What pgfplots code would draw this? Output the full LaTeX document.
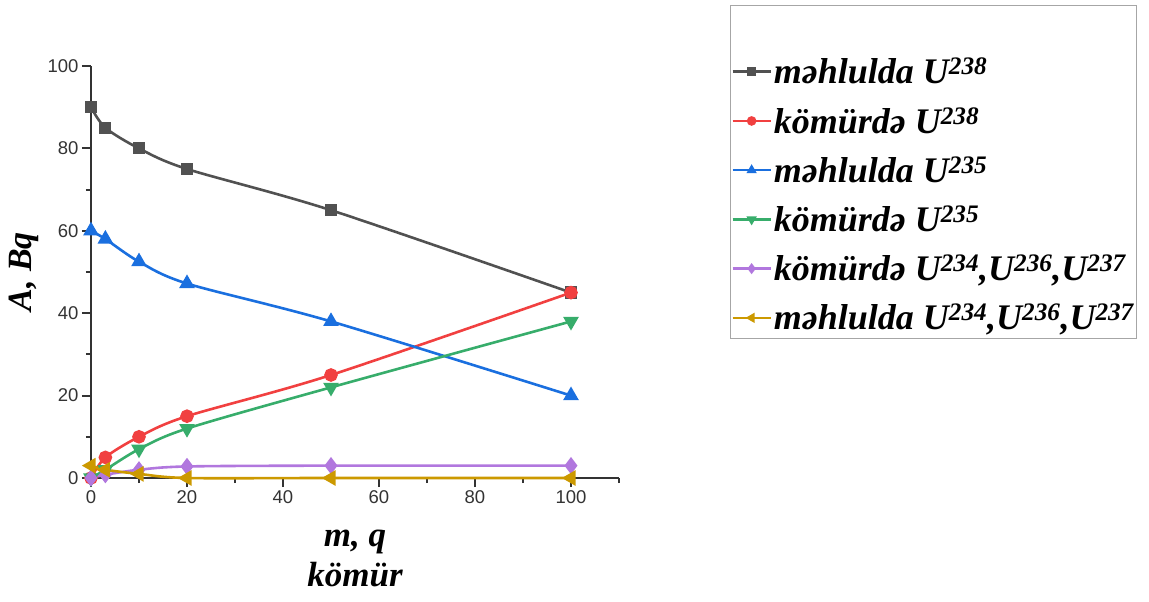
\documentclass[border=0pt]{standalone}
\usepackage{pgfplots}
\pgfplotsset{compat=1.18}
\usepackage{fontspec}
\setmainfont{Liberation Serif}
\newfontfamily\arialfont{Liberation Sans}
\definecolor{cBlack}{HTML}{515151}
\definecolor{cRed}{HTML}{F14040}
\definecolor{cBlue}{HTML}{1A6FDF}
\definecolor{cGreen}{HTML}{37AD6B}
\definecolor{cPurple}{HTML}{B177DE}
\definecolor{cGold}{HTML}{CC9900}
\begin{document}
\begin{tikzpicture}
\useasboundingbox (-91pt,-124pt) rectangle (1058pt,478pt);
\begin{axis}[
  scale only axis,
  width=528pt, height=412pt,
  xmin=0, xmax=110, ymin=0, ymax=100,
  axis x line*=bottom, axis y line*=left,
  axis line style={line width=2pt, black!80},
  xtick={0,20,40,60,80,100},
  ytick={0,20,40,60,80,100},
  minor xtick={10,30,50,70,90,110},
  minor ytick={10,30,50,70,90},
  tick align=outside,
  major tick length=9pt, minor tick length=5pt,
  tick style={line width=2pt, black!80},
  ticklabel style={font=\arialfont\fontsize{18.5}{20}\selectfont, text=black!80},
  /pgf/number format/assume math mode=true,
  xlabel={m, q\\kömür},
  xlabel style={font=\bfseries\itshape\fontsize{35}{40}\selectfont, align=center, yshift=-20pt},
  ylabel={A, Bq},
  ylabel style={font=\bfseries\itshape\fontsize{34}{38}\selectfont, yshift=2pt},
  legend style={at={(1.21,1.148)}, anchor=north west, draw=black!35, line width=1pt,
    font=\bfseries\itshape\fontsize{36}{38}\selectfont, row sep=18pt,
    inner xsep=1pt, inner ysep=5pt, legend cell align=left},
  legend image code/.code={\draw[mark repeat=2,mark phase=2,line width=2.5pt,mark size=3.5pt] plot coordinates {(0pt,0pt)(19pt,0pt)(38pt,0pt)};},
  every axis plot/.append style={line width=2.6pt, smooth, tension=0.5},
  clip=false,
]
\addlegendimage{empty legend}\addlegendentry{\rule{0pt}{22pt}}
\addplot[color=cBlack, mark=square*, mark size=4.8pt] coordinates {(0,90)(3,85)(10,80)(20,75)(50,65)(100,45)};
\addlegendentry{məhlulda U\textsuperscript{238}}
\addplot[color=cRed, mark=*, mark size=5.5pt] coordinates {(0,0)(3,5)(10,10)(20,15)(50,25)(100,45)};
\addlegendentry{kömürdə U\textsuperscript{238}}
\addplot[color=cBlue, mark=triangle*, mark size=6.5pt] coordinates {(0,60)(3,58)(10,52.5)(20,47.2)(50,38)(100,20)};
\addlegendentry{məhlulda U\textsuperscript{235}}
\addplot[color=cGreen, mark=triangle*, mark size=6.5pt, mark options={rotate=180}] coordinates {(0,0)(3,2)(10,7)(20,12)(50,22)(100,38)};
\addlegendentry{kömürdə U\textsuperscript{235}}
\addplot[color=cPurple, mark=diamond*, mark size=6.5pt] coordinates {(0,0)(3,0.8)(10,2)(20,2.8)(50,3)(100,3)};
\addlegendentry{kömürdə U\textsuperscript{234},U\textsuperscript{236},U\textsuperscript{237}}
\addplot[color=cGold, mark=triangle*, mark size=6.5pt, mark options={rotate=90}] coordinates {(0,3)(3,2)(10,1)(20,0)(50,0)(100,0)};
\addlegendentry{məhlulda U\textsuperscript{234},U\textsuperscript{236},U\textsuperscript{237}}
\end{axis}
\end{tikzpicture}
\end{document}
